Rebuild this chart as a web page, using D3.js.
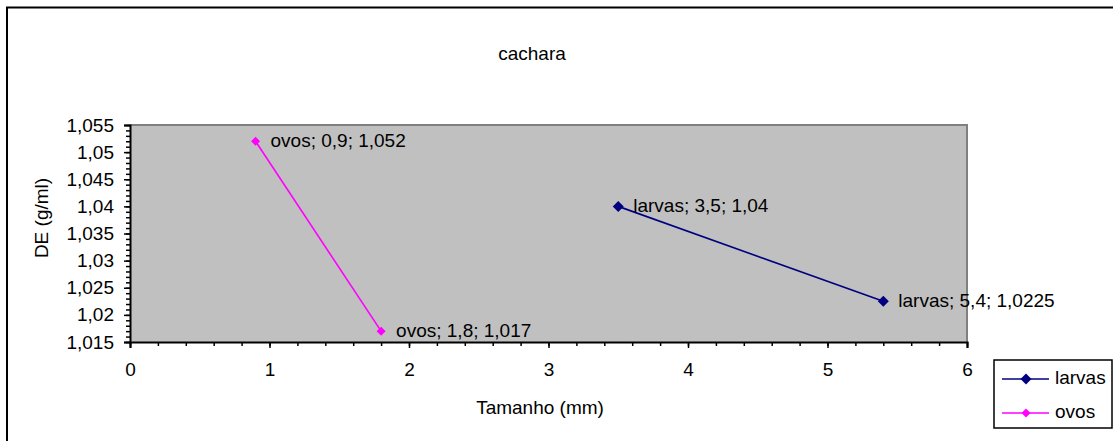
<!DOCTYPE html>
<html>
<head>
<meta charset="utf-8">
<script src="https://cdn.jsdelivr.net/npm/d3@7"></script>
<style>
  html, body { margin: 0; padding: 0; background: #fff; }
  svg text { font-family: Arial, "Liberation Sans", sans-serif; fill: #000; }
</style>
</head>
<body>
<div id="chart"></div>
<script>
// dados do gráfico "cachara"
const seriesNames = ["larvas", "ovos"];
const larvasX = [3.5, 5.4];
const larvasY = [1.04, 1.0225];
const ovosX = [0.9, 1.8];
const ovosY = [1.052, 1.017];
const xTicks = [0, 1, 2, 3, 4, 5, 6];
const yTicks = [1.015, 1.02, 1.025, 1.03, 1.035, 1.04, 1.045, 1.05, 1.055];

const width = 1113, height = 441;
const plot = { left: 130, right: 967, top: 125, bottom: 342 };
const colors = { larvas: "#000080", ovos: "#FF00FF" };
const fontSize = 19;

const fmt = v => String(v).replace(".", ",");

const svg = d3.select("#chart").append("svg")
  .attr("width", width)
  .attr("height", height);

// moldura externa
svg.append("rect")
  .attr("x", 7).attr("y", 7.5)
  .attr("width", width + 20).attr("height", height + 20)
  .attr("fill", "#fff")
  .attr("stroke", "#000")
  .attr("stroke-width", 2);

const x = d3.scaleLinear().domain([0, 6]).range([plot.left, plot.right]);
const y = d3.scaleLinear().domain([1.015, 1.055]).range([plot.bottom, plot.top]);

// área de plotagem
svg.append("rect")
  .attr("x", plot.left).attr("y", plot.top)
  .attr("width", plot.right - plot.left)
  .attr("height", plot.bottom - plot.top)
  .attr("fill", "#C0C0C0");
svg.append("path")
  .attr("d", `M${plot.left},${plot.top}H${plot.right}V${plot.bottom}`)
  .attr("fill", "none")
  .attr("stroke", "#808080")
  .attr("stroke-width", 2);

// título
svg.append("text")
  .attr("x", 532).attr("y", 55)
  .attr("text-anchor", "middle")
  .attr("dominant-baseline", "middle")
  .style("font-size", fontSize + "px")
  .text("cachara");

// eixo Y (ticks menores a cada 0,001)
const yAxis = svg.append("g").attr("transform", `translate(${plot.left},0)`);
yAxis.call(d3.axisLeft(y).tickValues(d3.range(0, 41).map(i => 1.015 + i * 0.001))
  .tickSize(4).tickFormat(""));
yAxis.call(g => g.selectAll(".tick line").attr("stroke", "#000").attr("stroke-width", 1.5));
const yMajor = svg.append("g").attr("transform", `translate(${plot.left},0)`)
  .call(d3.axisLeft(y).tickValues(yTicks).tickSize(6).tickPadding(10)
    .tickFormat(d => fmt(+d.toFixed(3))));
yMajor.selectAll(".tick line").attr("stroke", "#000").attr("stroke-width", 1.5);
yMajor.selectAll(".tick text").style("font-size", fontSize + "px").attr("fill", "#000")
  .style("font-family", "Arial, 'Liberation Sans', sans-serif");
yAxis.select(".domain").remove();
yMajor.select(".domain").attr("stroke", "#000").attr("stroke-width", 2);

// eixo X (ticks menores a cada 0,2)
const xAxis = svg.append("g").attr("transform", `translate(0,${plot.bottom})`);
xAxis.call(d3.axisBottom(x).tickValues(d3.range(0, 31).map(i => i * 0.2))
  .tickSize(4).tickFormat(""));
xAxis.selectAll(".tick line").attr("stroke", "#000").attr("stroke-width", 1.5);
xAxis.select(".domain").remove();
const xMajor = svg.append("g").attr("transform", `translate(0,${plot.bottom})`)
  .call(d3.axisBottom(x).tickValues(xTicks).tickSize(6).tickPadding(15).tickFormat(d => d));
xMajor.selectAll(".tick line").attr("stroke", "#000").attr("stroke-width", 1.5);
xMajor.selectAll(".tick text").style("font-size", fontSize + "px").attr("fill", "#000")
  .style("font-family", "Arial, 'Liberation Sans', sans-serif");
xMajor.select(".domain").attr("stroke", "#000").attr("stroke-width", 2);

// títulos dos eixos
svg.append("text")
  .attr("x", 540).attr("y", 409)
  .attr("text-anchor", "middle")
  .attr("dominant-baseline", "middle")
  .style("font-size", fontSize + "px")
  .text("Tamanho (mm)");
svg.append("text")
  .attr("transform", "translate(43,218) rotate(-90)")
  .attr("text-anchor", "middle")
  .attr("dominant-baseline", "middle")
  .style("font-size", fontSize + "px")
  .text("DE (g/ml)");

// séries
const series = [
  { name: "larvas", xs: larvasX, ys: larvasY, size: 5.5 },
  { name: "ovos", xs: ovosX, ys: ovosY, size: 4.5 }
];
const diamond = s => `M0,${-s}L${s},0L0,${s}L${-s},0Z`;
const line = d3.line().x(d => x(d[0])).y(d => y(d[1]));

series.forEach(s => {
  const pts = s.xs.map((v, i) => [v, s.ys[i]]);
  svg.append("path")
    .attr("d", line(pts))
    .attr("fill", "none")
    .attr("stroke", colors[s.name])
    .attr("stroke-width", 1.6);
  svg.selectAll(null).data(pts).enter().append("path")
    .attr("d", diamond(s.size))
    .attr("transform", d => `translate(${x(d[0])},${y(d[1])})`)
    .attr("fill", colors[s.name]);
});

// rótulos de dados
series.forEach(s => {
  const pts = s.xs.map((v, i) => [v, s.ys[i]]);
  svg.selectAll(null).data(pts).enter().append("text")
    .attr("x", d => x(d[0]) + 15)
    .attr("y", d => y(d[1]) + 1)
    .attr("dominant-baseline", "middle")
    .style("font-size", fontSize + "px")
    .text(d => `${s.name}; ${fmt(d[0])}; ${fmt(d[1])}`);
});

// legenda
const legend = svg.append("g");
legend.append("rect")
  .attr("x", 994).attr("y", 360)
  .attr("width", 118).attr("height", 68)
  .attr("fill", "#fff")
  .attr("stroke", "#000")
  .attr("stroke-width", 1.5);
seriesNames.forEach((name, i) => {
  const ly = 379 + i * 34;
  const sz = series[i].size;
  legend.append("line")
    .attr("x1", 1002).attr("x2", 1049)
    .attr("y1", ly).attr("y2", ly)
    .attr("stroke", colors[name])
    .attr("stroke-width", 1.6);
  legend.append("path")
    .attr("d", diamond(sz))
    .attr("transform", `translate(1026,${ly})`)
    .attr("fill", colors[name]);
  legend.append("text")
    .attr("x", 1055).attr("y", ly)
    .attr("dominant-baseline", "middle")
    .style("font-size", fontSize + "px")
    .text(name);
});
</script>
</body>
</html>
